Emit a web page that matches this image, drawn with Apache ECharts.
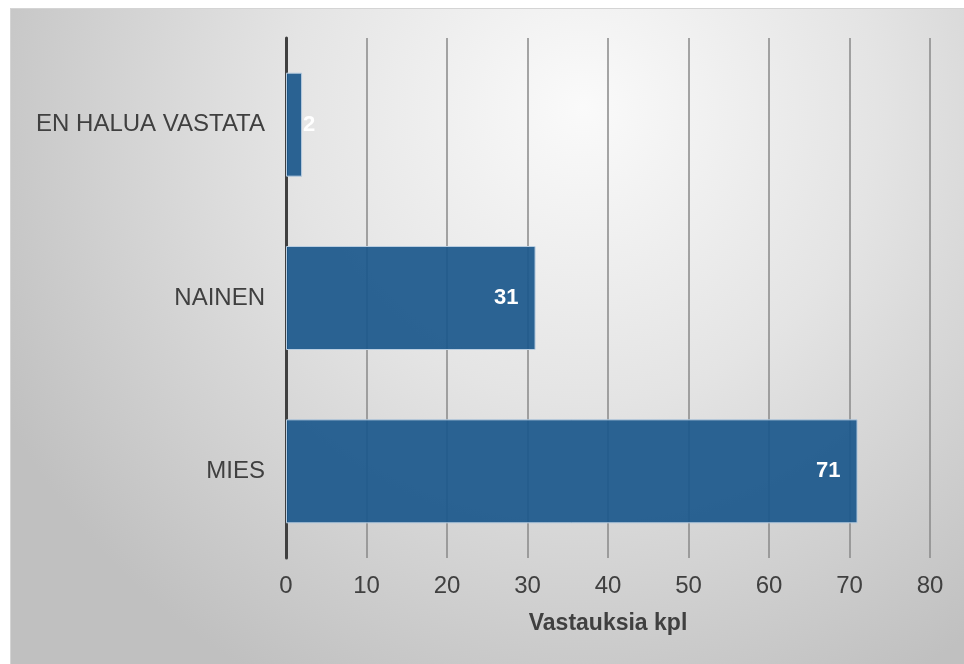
<!DOCTYPE html>
<html>
<head>
<meta charset="utf-8">
<script src="https://cdn.jsdelivr.net/npm/echarts@6/dist/echarts.min.js"></script>
<style>
html,body{margin:0;padding:0;background:#fff;}
#c{position:absolute;left:10px;top:8px;width:953px;height:655px;border-top:1px solid #d4d4d4;border-left:1px solid #d4d4d4;}
</style>
</head>
<body>
<div id="c"></div>
<script>
const categories = ['MIES', 'NAINEN', 'EN HALUA VASTATA'];
const values = [71, 31, 2];
const xTicks = { min: 0, max: 80, interval: 10 };
const axisName = 'Vastauksia kpl';

const chart = echarts.init(document.getElementById('c'));
chart.setOption({
  backgroundColor: {
    type: 'radial', x: 0.6, y: 0.15, r: 1.0,
    colorStops: [
      { offset: 0, color: '#fafafa' },
      { offset: 0.45, color: '#e4e4e4' },
      { offset: 1, color: '#c0c0c0' }
    ]
  },
  animation: false,
  grid: { left: 275, right: 34, top: 29, bottom: 106 },
  xAxis: {
    type: 'value', min: xTicks.min, max: xTicks.max, interval: xTicks.interval,
    name: axisName, nameLocation: 'middle', nameGap: 54,
    nameTextStyle: { fontFamily: 'Liberation Sans', fontSize: 23, fontWeight: 'bold', color: '#404040' },
    axisLine: { show: false }, axisTick: { show: false },
    axisLabel: { fontFamily: 'Liberation Sans', fontSize: 24, color: '#404040', margin: 16 },
    splitLine: { lineStyle: { color: '#888888', width: 1.5 } }
  },
  yAxis: {
    type: 'category', data: categories,
    axisLine: { lineStyle: { color: '#404040', width: 3 } },
    axisTick: { show: false },
    axisLabel: { fontFamily: 'Liberation Sans', fontSize: 24, color: '#404040', margin: 21 }
  },
  series: [{
    type: 'bar',
    data: values.map(v => ({
      value: v,
      label: v < 5 ? { position: 'right', distance: 1 } : {}
    })),
    barCategoryGap: '40%',
    itemStyle: { color: 'rgba(28,88,140,0.93)', borderColor: '#b9cde0', borderWidth: 1 },
    label: {
      show: true, position: 'insideRight', distance: 17,
      fontFamily: 'Liberation Sans', fontSize: 22, fontWeight: 'bold', color: '#ffffff'
    }
  }]
});
</script>
</body>
</html>
